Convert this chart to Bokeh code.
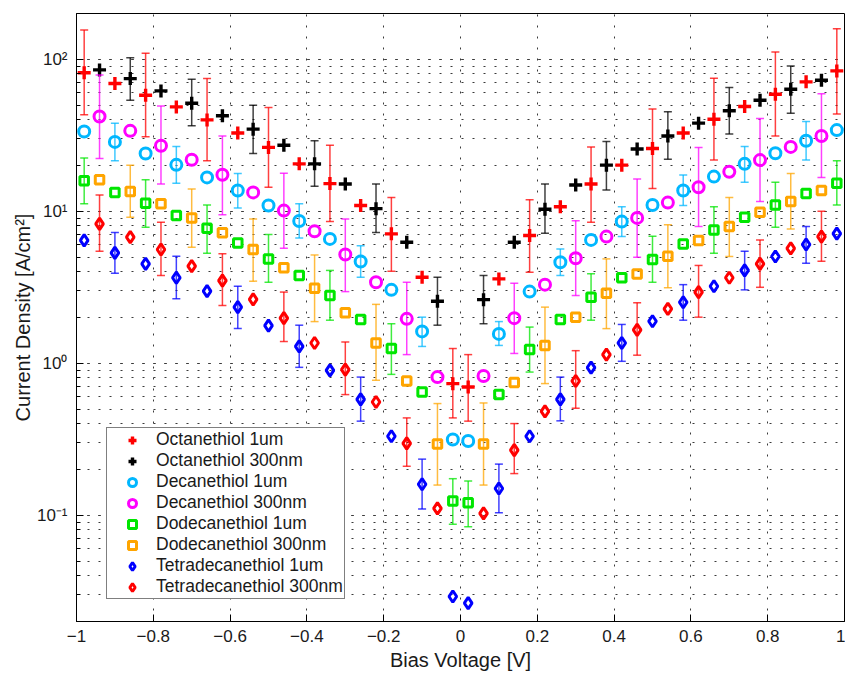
from bokeh.plotting import figure
from bokeh.models import (ColumnDataSource, Range1d, FixedTicker, LogTicker,
                          Legend, LegendItem, CustomJSTickFormatter)
from bokeh.embed import file_html
from bokeh.resources import INLINE

# ---------------- data ----------------
x_1um = [-0.98, -0.90, -0.82, -0.74, -0.66, -0.58, -0.50, -0.42, -0.34, -0.26, -0.18, -0.10, -0.02,
         0.02, 0.10, 0.18, 0.26, 0.34, 0.42, 0.50, 0.58, 0.66, 0.74, 0.82, 0.90, 0.98]
x_300nm = [-0.94, -0.86, -0.78, -0.70, -0.62, -0.54, -0.46, -0.38, -0.30, -0.22, -0.14, -0.06,
           0.06, 0.14, 0.22, 0.30, 0.38, 0.46, 0.54, 0.62, 0.70, 0.78, 0.86, 0.94]

octa_1um = [81.6, 69.2, 58.0, 48.6, 39.9, 32.7, 26.3, 20.5, 15.2, 10.9, 7.10, 3.68, 0.734,
            0.698, 3.59, 6.92, 10.7, 15.1, 20.1, 25.9, 32.7, 40.3, 48.9, 58.9, 71.0, 83.8]
octa_1um_lo = [43.1, None, 30.9, None, 21.5, None, 14.4, None, 8.55, None, 4.03, None, 0.437,
               0.416, None, 3.97, None, 8.46, None, 14.1, None, 21.7, None, 31.3, None, 43.6]
octa_1um_hi = [155.7, None, 109.5, None, 74.6, None, 48.1, None, 27.2, None, 12.3, None, 1.25,
               1.14, None, 11.9, None, 26.5, None, 47.0, None, 75.0, None, 111.7, None, 158.8]

octa_300 = [85.1, 74.6, 61.9, 51.4, 42.5, 34.7, 27.2, 20.5, 15.1, 10.4, 6.25, 2.56,
            2.62, 6.25, 10.3, 14.9, 20.1, 25.7, 31.3, 38.0, 45.8, 53.8, 63.5, 72.8]
octa_300_lo = [None, 53.8, None, 36.5, None, 24.0, None, 14.6, None, 7.26, None, 1.78,
               1.82, None, 7.16, None, 13.8, None, 22.0, None, 32.2, None, 44.2, None]
octa_300_hi = [None, 102.5, None, 73.9, None, 49.9, None, 29.1, None, 15.1, None, 3.68,
               3.78, None, 15.1, None, 28.8, None, 45.1, None, 65.2, None, 90.3, None]

deca_1um = [33.5, 28.6, 24.0, 20.2, 16.7, 13.7, 10.9, 8.63, 6.58, 4.67, 3.04, 1.62, 0.315,
            0.308, 1.56, 2.96, 4.62, 6.48, 8.55, 11.0, 13.7, 16.9, 20.5, 24.1, 29.1, 34.2]
deca_1um_lo = [None, 21.5, None, 15.3, None, 10.5, None, 6.68, None, 3.68, None, 1.29, None,
               None, 1.31, None, 3.78, None, 6.81, None, 10.9, None, 15.5, None, 21.7, None]
deca_1um_hi = [None, 38.0, None, 26.7, None, 17.7, None, 11.2, None, 5.94, None, 2.01, None,
               None, 1.88, None, 5.65, None, 10.7, None, 17.3, None, 26.7, None, 38.9, None]

deca_300 = [42.0, 33.8, 27.0, 21.8, 17.4, 13.3, 10.1, 7.38, 5.19, 3.41, 1.96, 0.811,
            0.824, 1.98, 3.29, 4.91, 6.81, 9.04, 11.4, 14.4, 18.2, 21.7, 26.5, 31.3]
deca_300_lo = [22.2, None, 15.1, None, 9.50, None, 5.70, None, 2.96, None, 1.14, None,
               None, 1.16, None, 2.79, None, 4.98, None, 7.93, None, 11.6, None, 16.7]
deca_300_hi = [78.9, None, 49.3, None, 31.3, None, 17.8, None, 8.89, None, 3.41, None,
               None, 3.36, None, 8.67, None, 16.3, None, 26.3, None, 40.7, None, 59.4]

dode_1um = [15.9, 13.3, 11.3, 9.36, 7.73, 6.19, 4.86, 3.78, 2.79, 1.94, 1.25, 0.647, 0.124,
            0.121, 0.622, 1.23, 1.94, 2.72, 3.65, 4.81, 6.10, 7.54, 9.12, 11.0, 13.1, 15.3]
dode_1um_lo = [11.2, None, 7.84, None, 5.30, None, 3.41, None, 1.92, None, 0.845, None, 0.0871,
               0.0840, None, 0.875, None, 1.92, None, 3.41, None, 5.30, None, 7.84, None, 11.0]
dode_1um_hi = [22.4, None, 16.1, None, 11.0, None, 7.02, None, 4.08, None, 1.82, None, 0.174,
               0.168, None, 1.73, None, 3.88, None, 6.84, None, 10.7, None, 15.5, None, 21.5]

dode_300 = [16.1, 13.5, 11.2, 9.04, 7.21, 5.60, 4.25, 3.12, 2.15, 1.36, 0.764, 0.294,
            0.294, 0.746, 1.31, 2.01, 2.89, 3.87, 5.06, 6.41, 7.93, 9.85, 11.6, 13.7]
dode_300_lo = [None, 9.12, None, 5.79, None, 3.47, None, 1.88, None, 0.773, None, 0.158,
               0.158, None, 0.735, None, 1.69, None, 3.14, None, 5.04, None, 7.65, None]
dode_300_hi = [None, 20.1, None, 14.0, None, 8.89, None, 5.16, None, 2.44, None, 0.543,
               0.548, None, 2.34, None, 4.86, None, 8.16, None, 12.3, None, 17.7, None]

tetra_1um = [6.44, 5.32, 4.51, 3.65, 2.98, 2.34, 1.77, 1.29, 0.897, 0.579, 0.331, 0.160, 0.0292,
             0.0264, 0.150, 0.331, 0.579, 0.935, 1.36, 1.89, 2.52, 3.21, 4.08, 5.04, 6.04, 7.13]
tetra_1um_lo = [None, 3.91, None, 2.66, None, 1.69, None, 0.940, None, 0.416, None, 0.110, None,
                None, 0.104, None, 0.418, None, 1.03, None, 1.92, None, 3.04, None, 4.55, None]
tetra_1um_hi = [None, 7.26, None, 5.06, None, 3.21, None, 1.78, None, 0.811, None, 0.234, None,
                None, 0.217, None, 0.811, None, 1.80, None, 3.29, None, 5.45, None, 7.93, None]

tetra_300 = [8.26, 6.75, 5.60, 4.35, 3.50, 2.63, 1.98, 1.36, 0.908, 0.556, 0.297, 0.111,
             0.103, 0.268, 0.483, 0.764, 1.14, 1.66, 2.28, 2.94, 3.65, 4.51, 5.70, 6.81]
tetra_300_lo = [5.46, None, 3.78, None, 2.40, None, 1.39, None, 0.622, None, 0.210, None,
                None, 0.188, None, 0.506, None, 1.13, None, 2.01, None, 3.16, None, 4.69]
tetra_300_hi = [12.8, None, 8.46, None, 5.25, None, 2.94, None, 1.38, None, 0.437, None,
                None, 0.401, None, 1.21, None, 2.50, None, 4.40, None, 6.48, None, 10.0]

labels = ["Octanethiol 1um", "Octanethiol 300nm", "Decanethiol 1um", "Decanethiol 300nm",
          "Dodecanethiol 1um", "Dodecanethiol 300nm", "Tetradecanethiol 1um", "Tetradecanethiol 300nm"]
x_ticks = [-1, -0.8, -0.6, -0.4, -0.2, 0, 0.2, 0.4, 0.6, 0.8, 1]

# ---------------- styles ----------------
FONT = "Liberation Sans"
styles = [
    ("cross", "#FF0000", 13, 3.4),
    ("cross", "#000000", 13, 3.4),
    ("circle", "#00B7FF", 11, 3.0),
    ("circle", "#FF00FF", 11, 3.0),
    ("square", "#00E600", 8.5, 3.0),
    ("square", "#FFA500", 8.5, 3.0),
    ("diamond", "#0000FF", 11.5, 3.0),
    ("diamond", "#FF0000", 11.5, 3.0),
]
series = [
    (x_1um, octa_1um, octa_1um_lo, octa_1um_hi),
    (x_300nm, octa_300, octa_300_lo, octa_300_hi),
    (x_1um, deca_1um, deca_1um_lo, deca_1um_hi),
    (x_300nm, deca_300, deca_300_lo, deca_300_hi),
    (x_1um, dode_1um, dode_1um_lo, dode_1um_hi),
    (x_300nm, dode_300, dode_300_lo, dode_300_hi),
    (x_1um, tetra_1um, tetra_1um_lo, tetra_1um_hi),
    (x_300nm, tetra_300, tetra_300_lo, tetra_300_hi),
]

p = figure(width=845, height=673, x_range=Range1d(-1, 1), y_range=Range1d(0.02, 200),
           y_axis_type="log", output_backend="svg", toolbar_location=None,
           min_border_left=76, min_border_right=1, min_border_top=13, min_border_bottom=51)
p.title.visible = False
p.outline_line_color = "black"
p.outline_line_width = 1
p.background_fill_color = "white"
p.border_fill_color = "white"

xticker = FixedTicker(ticks=x_ticks, minor_ticks=[])
xfmt = CustomJSTickFormatter(code="""
const t = Math.round(tick*10)/10;
let s = Number.isInteger(t) ? t.toFixed(0) : t.toFixed(1);
return s.replace('-', '\u2212');
""")
yfmt = CustomJSTickFormatter(code="""
const e = Math.round(Math.log10(tick));
const sup = {'-':'\u207B','0':'\u2070','1':'\u00B9','2':'\u00B2','3':'\u00B3','4':'\u2074',
             '5':'\u2075','6':'\u2076','7':'\u2077','8':'\u2078','9':'\u2079'};
return '10' + String(e).split('').map(c => sup[c]).join('');
""")

xa = p.xaxis[0]
xa.ticker = xticker
xa.formatter = xfmt
ya = p.yaxis[0]
ya.formatter = yfmt
ya.ticker = LogTicker(num_minor_ticks=10)

for ax in (xa, ya):
    ax.axis_line_color = "black"
    ax.major_tick_in = 7
    ax.major_tick_out = 0
    ax.minor_tick_in = 4
    ax.minor_tick_out = 0
    ax.major_tick_line_color = "black"
    ax.minor_tick_line_color = "black"
    ax.major_label_text_font = FONT
    ax.major_label_text_font_size = "17px"
    ax.major_label_text_color = "#1a1a1a"
    ax.axis_label_text_font = FONT
    ax.axis_label_text_font_size = "20px"
    ax.axis_label_text_font_style = "normal"
    ax.axis_label_text_color = "#1a1a1a"
xa.minor_tick_in = 0
xa.axis_label = "Bias Voltage [V]"
xa.major_label_standoff = 8
xa.axis_label_standoff = 4
ya.axis_label = "Current Density [A/cm\u00B2]"
ya.major_label_standoff = 9
ya.axis_label_standoff = 0

p.xgrid.ticker = xticker
p.xgrid.grid_line_color = "#3a3a3a"
p.xgrid.grid_line_dash = "2 9"
p.xgrid.grid_line_width = 1
p.ygrid.grid_line_color = "#3a3a3a"
p.ygrid.grid_line_dash = "2 9"
p.ygrid.minor_grid_line_color = "#3a3a3a"
p.ygrid.minor_grid_line_dash = "2 9"

items = []
for label, (xs, ys, lo, hi), (marker, color, size, lw) in zip(labels, series, styles):
    ex = [x for x, l in zip(xs, lo) if l is not None]
    elo = [l for l in lo if l is not None]
    ehi = [h for h in hi if h is not None]
    esrc = ColumnDataSource(dict(x=ex, lo=elo, hi=ehi))
    p.segment(x0="x", y0="lo", x1="x", y1="hi", source=esrc, line_color=color,
              line_width=1.5, line_alpha=0.75)
    p.scatter(x="x", y="lo", source=esrc, marker="dash", size=8, line_color=color,
              line_width=1.5, line_alpha=0.75)
    p.scatter(x="x", y="hi", source=esrc, marker="dash", size=8, line_color=color,
              line_width=1.5, line_alpha=0.75)
    src = ColumnDataSource(dict(x=xs, y=ys))
    r = p.scatter(x="x", y="y", source=src, marker=marker, size=size, line_color=color,
                  line_width=lw, fill_color=None)
    items.append(LegendItem(label=label, renderers=[r]))

legend = Legend(items=items, location=(30, 22), padding=1, spacing=0, margin=0,
                glyph_width=48, glyph_height=20, label_height=20, label_standoff=0,
                label_text_font=FONT, label_text_font_size="17.5px", label_text_color="#1a1a1a",
                border_line_color="black", border_line_width=1, background_fill_color="white",
                background_fill_alpha=1.0)
p.add_layout(legend)

open("out.html", "w").write(file_html(p, INLINE))
